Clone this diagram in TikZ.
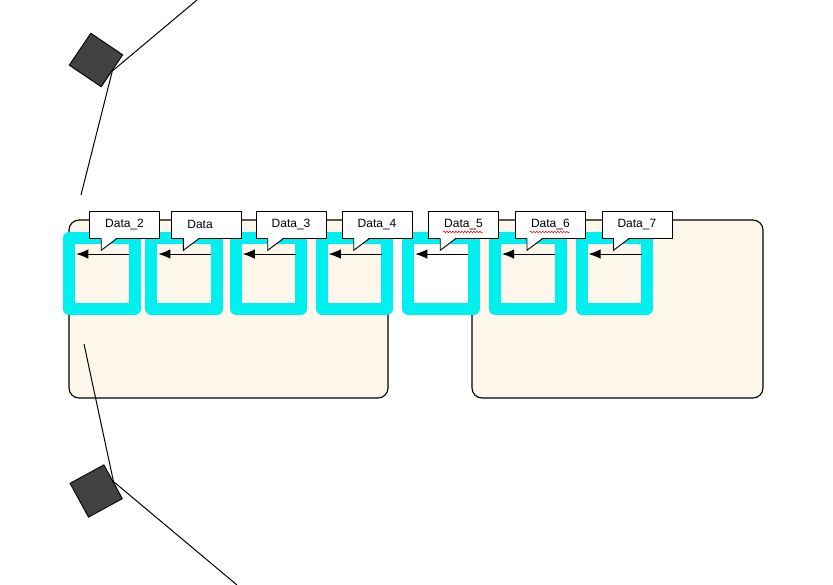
\documentclass[tikz,border=0pt]{standalone}
\usepackage{fontspec}
\setmainfont{Liberation Sans}
\usetikzlibrary{arrows.meta,decorations.pathmorphing}
\definecolor{traycol}{RGB}{253,246,234}
\definecolor{framecol}{RGB}{0,240,240}
\definecolor{sensorcol}{RGB}{66,66,66}

\begin{document}
\begin{tikzpicture}[x=1pt, y=-1pt, font=\fontsize{12}{14}\selectfont,
    tray/.style={draw, line width=1.1pt, fill=traycol, rounded corners=10pt},
    frame/.style={draw=framecol, line width=12pt, line join=round, outer sep=0pt,
                  minimum width=65.5pt, minimum height=70.5pt, inner sep=0pt},
    tag/.style={draw, fill=white, line width=0.9pt, outer sep=0pt, minimum height=27pt,
                text width=39pt, inner xsep=15.5pt, inner ysep=0pt, align=left},
    sensor/.style={draw, fill=sensorcol, line width=0.9pt, minimum size=38.5pt, inner sep=0pt},
    wire/.style={line width=1pt},
    flow/.style={line width=1pt, -{Latex[length=12pt,width=9.5pt]}},
    ]
    \useasboundingbox (0,0) rectangle (833,585);

    % trays
    \node[tray, minimum width=319pt, minimum height=178pt] (lefttray) at (228.5,309) {};
    \node[tray, minimum width=291pt, minimum height=178pt] (righttray) at (617.5,309) {};

    % frames with their arrows
    \foreach \n/\x in {1/102, 2/184.2, 3/268.5, 4/354.5, 5/441, 6/527.8, 7/614.3} {
        \node[frame] (box\n) at (\x,273.3) {};
        \draw[flow] ([shift={(-5.5,16)}]box\n.north east) -- ([shift={(7,16)}]box\n.north west);
    }

    % callouts
    \foreach \n/\lbl in {1/Data\_2, 2/Data, 3/Data\_3, 4/Data\_4, 5/Data\_5, 6/Data\_6, 7/Data\_7} {
        \node[tag] (tag\n) at ([shift={(22.7,-48.5)}]box\n) {\lbl};
        \fill[white] ([xshift=11.5pt,yshift=1pt]tag\n.south west) -- ([xshift=11.5pt,yshift=-12pt]tag\n.south west)
            -- ([xshift=27.5pt,yshift=1pt]tag\n.south west) -- cycle;
        \draw[line width=0.9pt] ([xshift=11.5pt]tag\n.south west) -- ++(0,12) -- ([xshift=27.5pt]tag\n.south west);
    }
    \foreach \n in {5,6}
        \draw[red, line width=0.6pt, decorate, decoration={snake, amplitude=0.8pt, segment length=3pt}]
            ([xshift=14.3pt,yshift=6.3pt]tag\n.south west) -- ([xshift=53.7pt,yshift=6.3pt]tag\n.south west);

    % sensors
    \node[sensor, rotate=-34] (topsensor) at (96,60) {};
    \node[sensor, rotate=28.6] (lowsensor) at (96.2,491) {};
    \coordinate (topfar) at (197,0);
    \coordinate (topnear) at (81,195);
    \coordinate (lownear) at (84,344);
    \coordinate (lowfar) at (237,585);
    \draw[wire] (topfar) -- (topsensor.east) -- (topnear);
    \draw[wire] (lownear) -- (lowsensor.east) -- (lowfar);
\end{tikzpicture}
\end{document}
